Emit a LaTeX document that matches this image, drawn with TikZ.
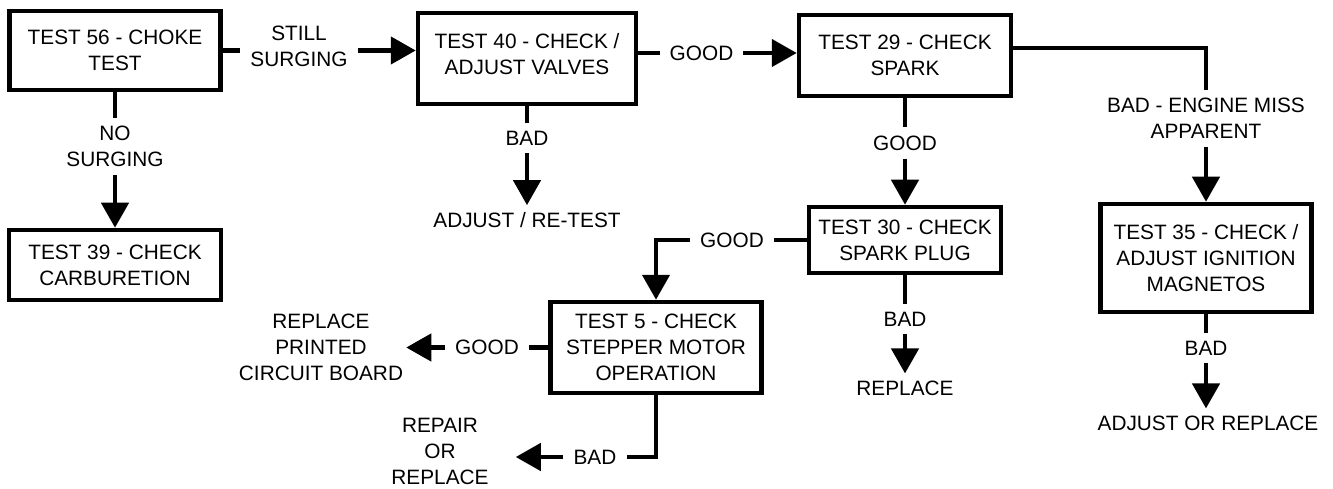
\documentclass[tikz,border=0pt]{standalone}
\usepackage{fontspec}
\setmainfont{Liberation Sans}
\usetikzlibrary{arrows.meta,positioning}

\begin{document}
\begin{tikzpicture}[
  x=1pt, y=-1pt,
  every node/.style={font=\fontsize{20.8}{26}\selectfont, align=center},
  box/.style={draw, line width=4.5pt, inner sep=0pt},
  lbl/.style={inner xsep=10pt, inner ysep=8pt},
  txt/.style={inner xsep=3pt, inner ysep=7pt},
  conn/.style={line width=4.5pt},
  arr/.style={line width=4.5pt, -{Triangle[length=25pt,width=27pt]}},
]
\useasboundingbox (0,0) rectangle (1333,489);

% test boxes
\node[box, minimum width=211pt, minimum height=79pt] (t56) at (115,50.5) {TEST 56 - CHOKE\\TEST};
\node[box, minimum width=212pt, minimum height=70pt] (t39) at (115,265) {TEST 39 - CHECK\\CARBURETION};
\node[box, minimum width=218pt, minimum height=91pt, text depth=10pt] (t40) at (527,58.5) {TEST 40 - CHECK /\\ADJUST VALVES};
\node[box, minimum width=212pt, minimum height=81pt] (t29) at (905,55.5) {TEST 29 - CHECK\\SPARK};
\node[box, minimum width=192pt, minimum height=66pt] (t30) at (905,240) {TEST 30 - CHECK\\SPARK PLUG};
\node[box, minimum width=211pt, minimum height=108pt] (t35) at (1206,258) {TEST 35 - CHECK /\\ADJUST IGNITION\\MAGNETOS};
\node[box, minimum width=211pt, minimum height=91pt] (t5) at (656,347.5) {TEST 5 - CHECK\\STEPPER MOTOR\\OPERATION};

% branch labels
\node[lbl] (still) at (299,46.5) {STILL\\SURGING};
\node[lbl] (nosurg) at (115,146.5) {NO\\SURGING};
\node[lbl] (good40) at (701.5,53) {GOOD};
\node[lbl] (bad40) at (527,138) {BAD};
\node[lbl] (good29) at (905,143) {GOOD};
\node[lbl] (bad29) at (1206,118.5) {BAD - ENGINE MISS\\APPARENT};
\node[lbl] (good30) at (732,240) {GOOD};
\node[lbl] (bad30) at (905,319) {BAD};
\node[lbl] (bad35) at (1206,348) {BAD};
\node[lbl] (good5) at (487,347.5) {GOOD};
\node[lbl] (bad5) at (595,457) {BAD};

% outcomes
\node[txt] (retest) at (527,220) {ADJUST / RE-TEST};
\node[txt] (repl30) at (905,388) {REPLACE};
\node[txt] (repl35) at (1208,423) {ADJUST OR REPLACE};
\node[txt] (pcb) at (321,347.5) {REPLACE\\PRINTED\\CIRCUIT BOARD};
\node[txt, inner xsep=27pt] (repair) at (440,451) {REPAIR\\OR\\REPLACE};

\draw[conn] (t56.east) -- (still.west |- t56.east);
\draw[arr] (still.east |- t56.east) -- (t40.west |- t56.east);
\draw[conn] (t56) -- (nosurg);
\draw[arr] (nosurg) -- (t39);
\draw[conn] (t40.east |- good40) -- (good40);
\draw[arr] (good40) -- (t29.west |- good40);
\draw[conn] (t40) -- (bad40);
\draw[arr] (bad40) -- (retest);
\draw[conn] ([yshift=7.5pt]t29.east) -| (bad29.north);
\draw[arr] (bad29.south) -- (bad29.south |- t35.north);
\draw[conn] (t35.south) -- (bad35.north);
\draw[arr] (bad35.south) -- (bad35.south |- repl35.north);
\draw[conn] (t29) -- (good29);
\draw[arr] (good29) -- (t30);
\draw[conn] (t30) -- (bad30);
\draw[arr] (bad30) -- (repl30);
\draw[conn] (t30.west) -- (good30.east);
\draw[arr] (good30.west) -| (t5.north);
\draw[conn] (t5.west) -- (good5.east);
\draw[arr] (good5.west) -- (pcb.east);
\draw[conn] (t5.south) |- (bad5.east);
\draw[arr] (bad5.west) -- (repair.east |- bad5.west);
\end{tikzpicture}
\end{document}
